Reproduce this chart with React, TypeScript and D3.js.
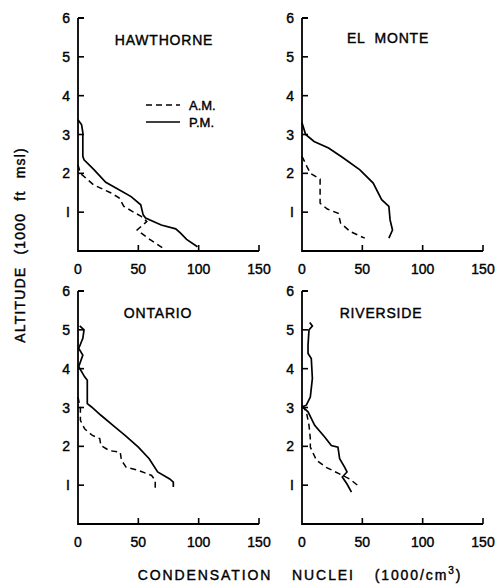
import * as d3 from "d3";

// [nuclei (1000/cm3), altitude (1000 ft msl)]
const hawthorneAM: [number, number][] = [
  [0, 2.22], [2, 2.0], [13, 1.7], [27, 1.5], [34, 1.37], [38, 1.15], [45, 1.02],
  [52, 0.9], [57, 0.76], [49, 0.54], [58, 0.33], [70, 0.08],
];
const hawthornePM: [number, number][] = [
  [0, 3.38], [3, 3.25], [4, 3.05], [4, 2.44], [5, 2.35], [13, 2.1], [23, 1.77],
  [34, 1.58], [44, 1.4], [52, 1.19], [54, 0.93], [56, 0.85], [69, 0.67],
  [81, 0.57], [85, 0.46], [90, 0.3], [99, 0.11],
];
const elMonteAM: [number, number][] = [
  [0, 2.44], [4, 2.18], [7, 2.0], [15, 1.85], [15, 1.23], [21, 1.08], [30, 0.97],
  [32, 0.72], [40, 0.5], [52, 0.33],
];
const elMontePM: [number, number][] = [
  [0, 3.3], [3, 3.0], [10, 2.82], [22, 2.65], [34, 2.4], [48, 2.09], [59, 1.75],
  [66, 1.32], [72, 1.15], [73, 0.8], [75, 0.54], [72, 0.33],
];
const ontarioAM: [number, number][] = [
  [0, 3.27], [2, 2.97], [2, 2.67], [5.5, 2.45], [12, 2.28], [18, 2.2], [19, 2.02],
  [26, 1.89], [35, 1.85], [36, 1.64], [40, 1.46], [50, 1.38], [61, 1.25],
  [64, 1.12], [64, 0.9],
];
const ontarioPM: [number, number][] = [
  [1.4, 5.1], [5, 5.0], [4, 4.78], [0.6, 4.52], [4, 4.35], [0.6, 4.05], [5.5, 3.79],
  [7.7, 3.7], [7.7, 3.1], [11, 3.02], [19, 2.8], [29, 2.54], [39, 2.28],
  [50, 1.98], [59, 1.68], [66, 1.34], [76, 1.16], [79, 1.08], [79, 0.95],
];
const riversideAM: [number, number][] = [
  [0, 3.06], [3.6, 2.89], [5.8, 2.54], [6.9, 2.2], [6.9, 1.98], [12, 1.64],
  [20, 1.46], [31, 1.29], [39.5, 1.16], [48, 0.95],
];
const riversidePM: [number, number][] = [
  [6.4, 5.19], [8.6, 5.1], [5.8, 5.0], [5, 4.61], [5, 4.39], [7.7, 4.26],
  [8.6, 3.75], [6.9, 3.27], [3.6, 3.06], [0.3, 3.02], [5, 2.89], [10.5, 2.54],
  [18.8, 2.24], [24.3, 2.02], [29.8, 1.98], [31.2, 1.68], [35.4, 1.46],
  [37.3, 1.34], [33.4, 1.21], [37.3, 1.03], [41, 0.82],
];

const stations = ["HAWTHORNE", "EL  MONTE", "ONTARIO", "RIVERSIDE"];
const xTicks = [0, 50, 100, 150];
const yTicks = [1, 2, 3, 4, 5, 6];

const FONT = "'Liberation Sans', Arial, sans-serif";
const textStroke = { stroke: "#000", strokeWidth: 0.4 };

interface PanelProps {
  title: string;
  am: [number, number][];
  pm: [number, number][];
  x0: number;
  y0: number;
  titleX: number;
  titleY: number;
  legend?: boolean;
}

const Panel = (props: PanelProps) => {
  const x = d3.scaleLinear().domain([0, 150]).range([props.x0, props.x0 + 181]);
  const y = d3.scaleLinear().domain([0, 6]).range([props.y0, props.y0 - 233]);
  const line = d3
    .line<[number, number]>()
    .x((d) => x(d[0]))
    .y((d) => y(d[1]));

  return (
    <g>
      <path
        d={`M${x(0)},${y(6)}H${x(0) + 6}M${x(0)},${y(6)}V${y(0)}H${x(150)}`}
        fill="none"
        stroke="#000"
        strokeWidth={1.8}
      />
      {yTicks.slice(0, 5).map((t) => (
        <line key={t} x1={x(0)} x2={x(0) + 6} y1={y(t)} y2={y(t)} stroke="#000" strokeWidth={1.6} />
      ))}
      {xTicks.slice(1).map((t) => (
        <line key={t} x1={x(t)} x2={x(t)} y1={y(0)} y2={y(0) - 6} stroke="#000" strokeWidth={1.6} />
      ))}
      {yTicks.map((t) => (
        <text
          key={t}
          x={x(0) - 8}
          y={y(t)}
          textAnchor="end"
          dominantBaseline="central"
          fontSize={14}
          fontFamily={FONT}
          {...textStroke}
        >
          {t === 1 ? "I" : t}
        </text>
      ))}
      {xTicks.map((t) => (
        <text
          key={t}
          x={x(t)}
          y={y(0) + 18}
          textAnchor="middle"
          dominantBaseline="central"
          fontSize={14}
          fontFamily={FONT}
          {...textStroke}
        >
          {t}
        </text>
      ))}
      <text
        x={props.titleX}
        y={props.titleY}
        textAnchor="middle"
        fontSize={14}
        letterSpacing={0.8}
        fontFamily={FONT}
        style={{ whiteSpace: "pre" }}
        {...textStroke}
      >
        {props.title}
      </text>
      <path d={line(props.am) ?? ""} fill="none" stroke="#000" strokeWidth={1.5} strokeDasharray="6,4" />
      <path d={line(props.pm) ?? ""} fill="none" stroke="#000" strokeWidth={1.7} />
      {props.legend && (
        <g fontFamily={FONT} fontSize={13}>
          <line x1={146} x2={180} y1={105} y2={105} stroke="#000" strokeWidth={1.5} strokeDasharray="6,4" />
          <text x={189} y={105} dominantBaseline="central" {...textStroke}>A.M.</text>
          <line x1={146} x2={180} y1={122} y2={122} stroke="#000" strokeWidth={1.7} />
          <text x={189} y={122} dominantBaseline="central" {...textStroke}>P.M.</text>
        </g>
      )}
    </g>
  );
};

const App = () => {
  return (
    <svg
      width={498}
      height={586}
      style={{ position: "absolute", left: 0, top: 0, background: "#fff" }}
    >
      <Panel title={stations[0]} am={hawthorneAM} pm={hawthornePM} x0={78} y0={251} titleX={164} titleY={45} legend />
      <Panel title={stations[1]} am={elMonteAM} pm={elMontePM} x0={302} y0={251} titleX={388} titleY={43} />
      <Panel title={stations[2]} am={ontarioAM} pm={ontarioPM} x0={78} y0={524} titleX={158} titleY={318} />
      <Panel title={stations[3]} am={riversideAM} pm={riversidePM} x0={302} y0={524} titleX={381} titleY={318} />
      <text
        transform="translate(20,245) rotate(-90)"
        textAnchor="middle"
        dominantBaseline="central"
        fontSize={14}
        letterSpacing={1.2}
        wordSpacing={7}
        fontFamily={FONT}
        {...textStroke}
      >
        ALTITUDE (1000 ft msl)
      </text>
      <text
        x={300}
        y={575}
        textAnchor="middle"
        dominantBaseline="central"
        fontSize={14}
        letterSpacing={1.9}
        wordSpacing={14}
        fontFamily={FONT}
        {...textStroke}
      >
        CONDENSATION NUCLEI (1000/cm
        <tspan dy={-5} fontSize={10}>3</tspan>
        <tspan dy={5}>)</tspan>
      </text>
    </svg>
  );
};

export default App;
